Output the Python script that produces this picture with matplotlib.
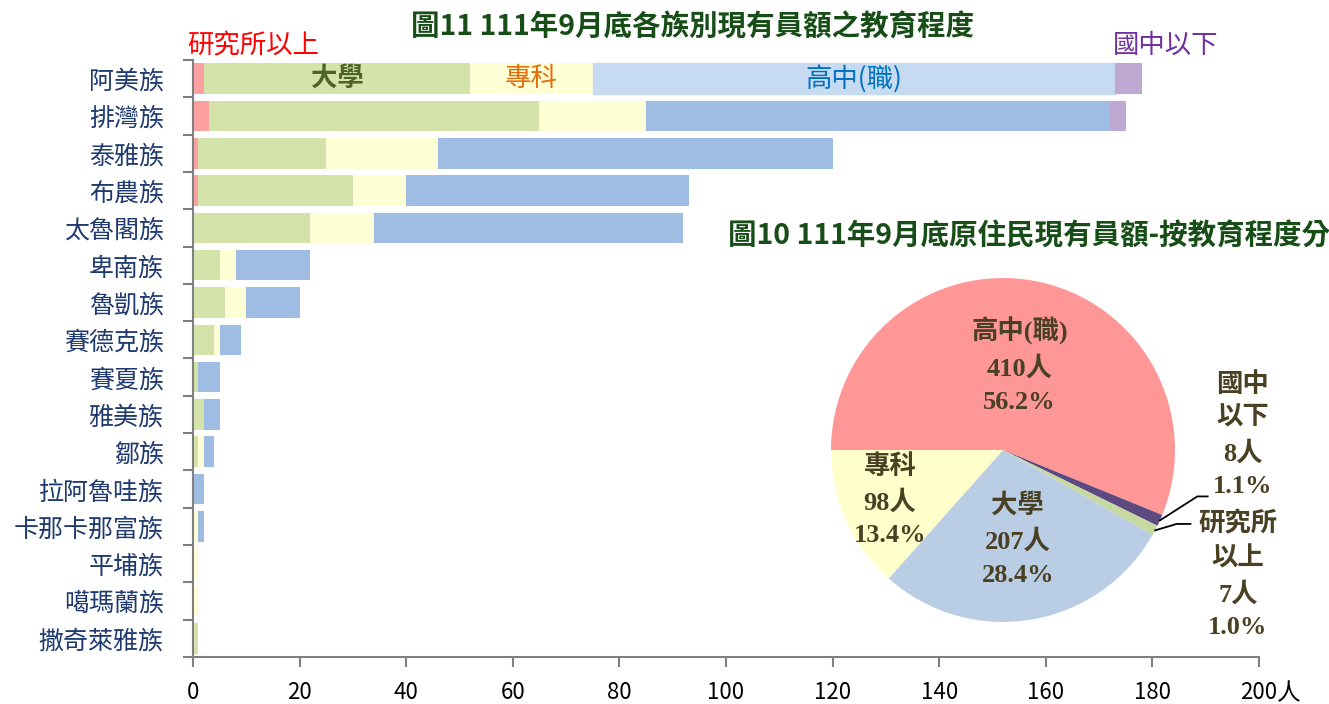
import matplotlib
matplotlib.use('Agg')
import matplotlib.pyplot as plt
import numpy as np

plt.rcParams['font.family'] = ['Noto Sans CJK TC', 'DejaVu Sans']

# 圖11 各族別 x 教育程度 (人)
tribes = ['阿美族', '排灣族', '泰雅族', '布農族', '太魯閣族', '卑南族', '魯凱族', '賽德克族',
          '賽夏族', '雅美族', '鄒族', '拉阿魯哇族', '卡那卡那富族', '平埔族', '噶瑪蘭族', '撒奇萊雅族']
grad    = [2, 3, 1, 1, 0, 0, 0, 0, 0, 0, 0, 0, 0, 0, 0, 0]
univ    = [50, 62, 24, 29, 22, 5, 6, 4, 1, 2, 1, 0, 0, 0, 0, 1]
college = [23, 20, 21, 10, 12, 3, 4, 1, 0, 0, 1, 0, 1, 1, 1, 0]
high    = [98, 87, 74, 53, 58, 14, 10, 4, 4, 3, 2, 2, 1, 0, 0, 0]
junior  = [5, 3, 0, 0, 0, 0, 0, 0, 0, 0, 0, 0, 0, 0, 0, 0]
xticks = list(range(0, 201, 20))

# 圖10 合計
pie_names = ['高中(職)', '國中\n以下', '研究所\n以上', '大學', '專科']
pie_vals = [410, 8, 7, 207, 98]

fig = plt.figure(figsize=(13.29, 7.04), dpi=100)
ax = fig.add_axes([0.1452, 0.0668, 0.8021, 0.848])

y = np.arange(len(tribes))
series = [grad, univ, college, high, junior]
colors = ['#ffa0a0', '#d3e3a9', '#ffffd5', '#9fbde3', '#bfa9d3']
left = np.zeros(len(tribes))
bars = []
for vals, c in zip(series, colors):
    b = ax.barh(y, vals, left=left, height=0.82, color=c, edgecolor='none')
    bars.append(b)
    left = left + np.array(vals)
bars[3][0].set_color('#c6dbf1')  # first row is lighter

ax.set_ylim(len(tribes) - 0.5, -0.5)
ax.set_xlim(0, 200)
ax.set_xticks(xticks)
ax.set_yticks(y)
ax.set_yticklabels(tribes, fontsize=18, color='#1f3a6e')
ax.set_yticks(np.arange(-0.5, len(tribes)), minor=True)
ax.tick_params(axis='y', which='major', length=0, pad=21)
ax.tick_params(axis='y', which='minor', length=7, color='#808080', width=1.5)
ax.tick_params(axis='x', length=7, color='#808080', width=1.5, labelsize=16, pad=10)
for s in ['top', 'right']:
    ax.spines[s].set_visible(False)
for s in ['left', 'bottom']:
    ax.spines[s].set_color('#808080')
    ax.spines[s].set_linewidth(1.5)
ax.text(1.028, -0.062, '人', transform=ax.transAxes, fontsize=17, ha='center', va='center')

# segment labels on the first row
c0 = np.cumsum([s[0] for s in series])
ax.text(-1, -0.88, '研究所以上', color='#ff0000', fontsize=19, ha='left', va='center')
ax.text((c0[0] + c0[1]) / 2, 0, '大學', color='#4f6228', fontsize=19, fontweight='bold', ha='center', va='center')
ax.text((c0[1] + c0[2]) / 2, 0, '專科', color='#e46c0a', fontsize=19, ha='center', va='center')
ax.text((c0[2] + c0[3]) / 2, 0, '高中(職)', color='#0070c0', fontsize=19, ha='center', va='center')
ax.text(c0[3] - 0.5, -0.88, '國中以下', color='#7030a0', fontsize=19, ha='left', va='center')

fig.text(693 / 1329, 1 - 27 / 704, '圖11 111年9月底各族別現有員額之教育程度', color='#174d17',
         fontsize=20.5, fontweight='bold', ha='center', va='center')
fig.text(1029 / 1329, 1 - 236 / 704, '圖10 111年9月底原住民現有員額-按教育程度分', color='#174d17',
         fontsize=20.5, fontweight='bold', ha='center', va='center')

# pie
pax = fig.add_axes([0.6253, 0.1165, 0.2588, 0.4886])
pie_colors = ['#ff9797', '#5c4a80', '#c6d9a0', '#b9cde4', '#ffffcc']
wedges, _ = pax.pie(pie_vals, colors=pie_colors, startangle=180, counterclock=False,
                    wedgeprops=dict(edgecolor='none'))
pax.set_xlim(-1, 1)
pax.set_ylim(-1, 1)
pax.set_aspect('equal')

total = sum(pie_vals)
tcol = '#4a4023'
pfont = dict(family=['Liberation Serif', 'Noto Sans CJK TC'], fontweight='bold', fontsize=19,
             color=tcol, ha='center', va='center', linespacing=1.55)
inner_r = {0: 0.5, 3: 0.53, 4: 0.72}
for i, w in enumerate(wedges):
    ang = np.deg2rad((w.theta1 + w.theta2) / 2)
    txt = '%s\n%d人\n%.1f%%' % (pie_names[i], pie_vals[i], pie_vals[i] / total * 100)
    if i in inner_r:
        r = inner_r[i]
        pax.text(r * np.cos(ang), r * np.sin(ang), txt, **pfont)
    else:
        tip = (np.cos(ang), np.sin(ang))
        if i == 1:
            elbow, end, tpos = (1.13, -0.27), (1.19, -0.27), (1.395, 0.087)
        else:
            elbow, end, tpos = (1.01, -0.43), (1.09, -0.43), (1.366, -0.727)
        pax.plot([tip[0], elbow[0], end[0]], [tip[1], elbow[1], end[1]], color='black',
                 lw=1.3, clip_on=False)
        pax.text(tpos[0], tpos[1], txt, **pfont)

fig.savefig('out.png', dpi=100)
